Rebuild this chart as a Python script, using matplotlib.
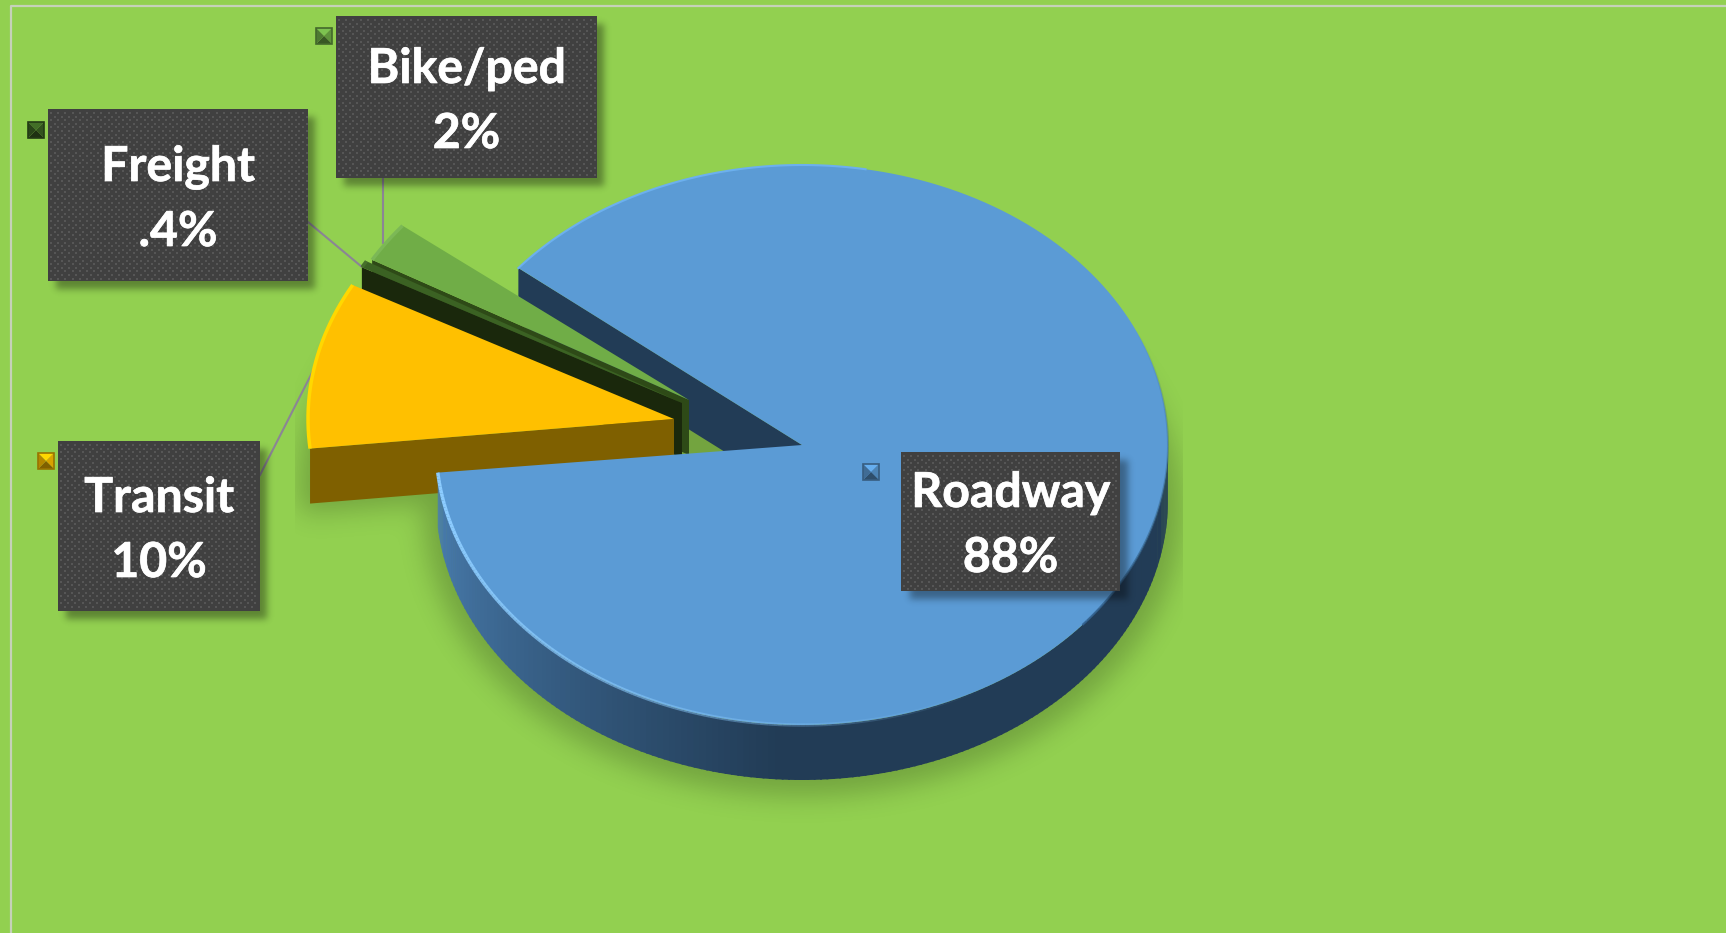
import numpy as np
import matplotlib
matplotlib.use('Agg')
from matplotlib import pyplot as plt
from matplotlib import patheffects
from matplotlib.collections import LineCollection
from matplotlib.colors import to_rgb
from matplotlib.patches import Polygon, Rectangle
from matplotlib.path import Path

# data, in drawing order going counter clockwise from the roadway cut
categories = ['Bike/ped', 'Freight', 'Transit', 'Roadway']
values = [2, 0.4, 10, 88]
value_labels = ['2%', '.4%', '10%', '88%']

# layout, pixels of the 1726x933 picture
W, H = 1726, 933
CX, CY = 802, 445
RX, RY = 366, 280
DEPTH = 55
START = 140.8
offsets = {'Bike/ped': (-113, -45), 'Freight': (-120, -42), 'Transit': (-128, -26), 'Roadway': (0, 0)}
# the tilted view does not keep the angles exactly
nudge = {'Bike/ped': (0.7, 2.0), 'Freight': (1.6, 1.6), 'Transit': (2.0, 0.8), 'Roadway': (0.4, 0)}
tops = {'Bike/ped': '#70ad47', 'Freight': '#3b6223', 'Transit': '#ffc000', 'Roadway': '#5b9bd5'}
sides = {'Bike/ped': '#2e4a17', 'Freight': '#1a280c', 'Transit': '#7f6000', 'Roadway': '#223c56'}
rims = {'Bike/ped': '#7cb856', 'Freight': '#46702b', 'Transit': '#ffd800'}
boxes = {'Bike/ped': (336, 16, 597, 178), 'Freight': (48, 109, 308, 281),
         'Transit': (58, 441, 260, 611), 'Roadway': (901, 452, 1120, 591)}
baselines = {'Bike/ped': (83, 148), 'Freight': (181, 246), 'Transit': (512, 577), 'Roadway': (507, 572)}
keys = {'Bike/ped': (316, 28), 'Freight': (28, 122), 'Transit': (38, 453), 'Roadway': (863, 464)}
leaders = [((383, 178), (383, 243)), ((308, 222), (362, 267)), ((260, 475), (316, 365))]

BG = '#92d050'

fig = plt.figure(figsize=(17.26, 9.33), dpi=100, facecolor=BG)
ax = fig.add_axes([0, 0, 1, 1])
ax.axis('off')

# angle ranges out of the values
total = sum(values)
spans = {}
a = START
for name, v in zip(categories, values):
    spans[name] = (a + nudge[name][0], a + v / total * 360 + nudge[name][1])
    a += v / total * 360


def arc(name, t1=None, t2=None, n=200):
    ox, oy = offsets[name]
    t1 = spans[name][0] if t1 is None else t1
    t2 = spans[name][1] if t2 is None else t2
    t = np.radians(np.linspace(t1, t2, n))
    return np.column_stack([CX + ox + RX * np.cos(t), CY + oy - RY * np.sin(t)])


def top_poly(name):
    ox, oy = offsets[name]
    return np.vstack([[CX + ox, CY + oy], arc(name)])


def cut_face(name, t):
    ox, oy = offsets[name]
    p = arc(name, t, t, 1)[0]
    return [(CX + ox, CY + oy), p, (p[0], p[1] + DEPTH), (CX + ox, CY + oy + DEPTH)]


yy, xx = np.mgrid[0:H, 0:W] + 0.5
grid = np.column_stack([xx.ravel(), yy.ravel()])


def blurred_mask(polys, sigma):
    m = np.zeros((H, W))
    for xy in polys:
        m = np.maximum(m, Path(xy).contains_points(grid).reshape(H, W).astype(float))
    fy = np.fft.fftfreq(H)[:, None]
    fx = np.fft.rfftfreq(W)[None, :]
    g = np.exp(-2 * (np.pi * sigma) ** 2 * (fx ** 2 + fy ** 2))
    return np.fft.irfft2(np.fft.rfft2(m) * g, s=(H, W))


def draw_shadow(mask, strength, z):
    rgba = np.zeros((H, W, 4))
    rgba[..., 3] = np.clip(mask, 0, 1) * strength
    ax.imshow(rgba, extent=(0, W, H, 0), interpolation='nearest', aspect='auto', zorder=z)


# frame of the chart area
ax.plot([11, 11, W], [H, 6, 6], color='#c6d1ba', lw=1.6, zorder=0.5)

# pie shadow, cut off left and right by a hard edge
t = np.radians(np.linspace(0, 360, 300))
ellipse = np.column_stack([CX + (RX + 12) * np.cos(t), CY + DEPTH + 10 - (RY + 6) * np.sin(t)])
mask = blurred_mask([ellipse, top_poly('Transit') + [-8, DEPTH + 10]], 13)
mask[:, :295] = 0
mask[:, 1182:] = 0
draw_shadow(mask, 0.21, 1)

# back cut of the roadway
ax.add_patch(Polygon(cut_face('Roadway', START), fc=sides['Roadway'], ec='none', zorder=2))

# small slices and transit
for i, name in enumerate(['Bike/ped', 'Freight', 'Transit']):
    z = 3 + i
    ax.add_patch(Polygon(cut_face(name, spans[name][1]), fc=sides[name], ec='none', zorder=z))
    ax.add_patch(Polygon(top_poly(name), fc=tops[name], ec='none', zorder=z))
    rim = arc(name)
    ax.plot(rim[:, 0], rim[:, 1], color=rims[name], lw=2.5, zorder=z, solid_capstyle='butt')

# roadway wall, colour runs from lighter on the left to navy under the middle
light = np.array(to_rgb('#4a7eb0'))
dark = np.array(to_rgb(sides['Roadway']))
t1 = spans['Roadway'][0]
edges = np.linspace(t1, 360, 175)
for e1, e2 in zip(edges[:-1], edges[1:]):
    f = min(1, (e1 - t1) / 80)
    up = arc('Roadway', e1, e2 + 0.3, 4)
    ax.add_patch(Polygon(np.vstack([up, (up + [0, DEPTH])[::-1]]), fc=light * (1 - f) + dark * f, ec='none', zorder=6))

# roadway top
ax.add_patch(Polygon(top_poly('Roadway'), fc=tops['Roadway'], ec='none', zorder=7))

# rim light, strong on the lower left and gone by the lower right
pts = arc('Roadway', t1, 300, 160)
segs = np.stack([pts[:-1], pts[1:]], axis=1)
fade = np.clip(np.linspace(1.1, 0, len(segs)), 0, 1)
cols = [(0.55, 0.8, 1.0, f) for f in fade]
ax.add_collection(LineCollection(segs, colors=cols, linewidths=2.5, zorder=7.5))
pts = arc('Roadway', 80, START, 60)
ax.plot(pts[:, 0], pts[:, 1], color='#6cb0ee', lw=1.5, zorder=7.5)
# thin darker rim on the right, fading upward
pts = arc('Roadway', -40, 25, 60)
segs = np.stack([pts[:-1], pts[1:]], axis=1)
cols = [(0.2, 0.38, 0.56, f) for f in np.linspace(0.9, 0, len(segs))]
ax.add_collection(LineCollection(segs, colors=cols, linewidths=1.5, zorder=7.5))

# leader lines
for p, q in leaders:
    ax.plot([p[0], q[0]], [p[1], q[1]], color='#8b8595', lw=1.5, zorder=2.5)

# callout shadows, one image for all four
rects = []
for name in categories:
    x0, y0, x1, y1 = boxes[name]
    rects.append([(x0 + 8, y0 + 8), (x1 + 7, y0 + 8), (x1 + 7, y1 + 8), (x0 + 8, y1 + 8)])
draw_shadow(blurred_mask(rects, 3.5), 0.36, 8)

# callouts
for name, v_label in zip(categories, value_labels):
    x0, y0, x1, y1 = boxes[name]
    z = 8
    ax.add_patch(Rectangle((x0, y0), x1 - x0, y1 - y0, fc='#404040', ec='none', zorder=z + 1))
    # dotted texture
    dots_x, dots_y = [], []
    for j, y in enumerate(np.arange(y0 + 4, y1 - 1, 3.6)):
        for x in np.arange(x0 + 3 + (j % 2) * 3.6, x1 - 1, 7.2):
            dots_x.append(x)
            dots_y.append(y)
    ax.scatter(dots_x, dots_y, s=2.6, marker='s', color='#565656', linewidths=0, zorder=z + 1.1)
    xc = (x0 + x1) / 2
    b1, b2 = baselines[name]
    heavy = [patheffects.withStroke(linewidth=0.5, foreground='white')]
    for label, b in ((name, b1), (v_label, b2)):
        ax.text(xc, b, label, color='white', fontsize=34.7, family='Lato', fontweight='bold',
                ha='center', va='baseline', zorder=z + 2, path_effects=heavy)
    # bevelled legend key, four faces of a little pyramid
    kx, ky = keys[name]
    s = 16
    base = np.array(to_rgb(tops[name]))
    mid = (kx + s / 2, ky + s / 2)
    corners = [(kx, ky), (kx + s, ky), (kx + s, ky + s), (kx, ky + s)]
    shades = [1.12, 0.85, 0.5, 0.7]
    for k, shade in enumerate(shades):
        ax.add_patch(Polygon([corners[k], corners[(k + 1) % 4], mid], fc=np.clip(base * shade, 0, 1), ec='none', zorder=z))
    ax.add_patch(Rectangle((kx, ky), s, s, fc='none', ec=base * 0.6, lw=1.2, zorder=z))

ax.set_xlim(0, W)
ax.set_ylim(H, 0)
fig.savefig('out.png', dpi=100, facecolor=BG)
